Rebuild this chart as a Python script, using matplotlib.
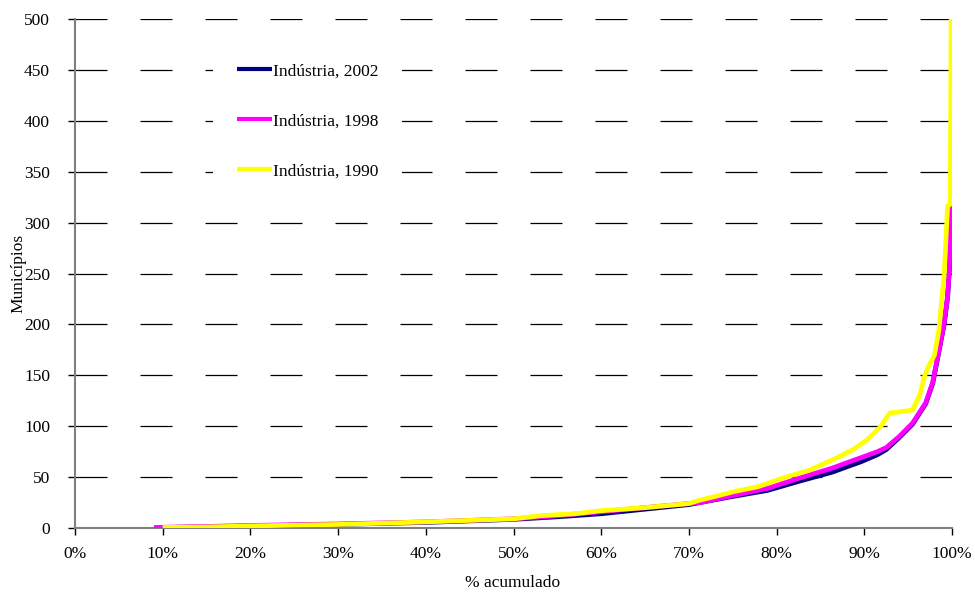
import matplotlib
matplotlib.use("Agg")
import matplotlib.pyplot as plt
from matplotlib.ticker import FuncFormatter
from matplotlib.patches import Rectangle

plt.rcParams['font.family'] = ['Liberation Serif', 'DejaVu Serif']
plt.rcParams['lines.scale_dashes'] = False

# Industria 2002 (navy)
x2002 = [9.5, 15, 20, 30, 40, 50, 55, 60, 65, 70, 75, 79, 82.6, 86.4, 88.3, 89.6, 91.5, 92.5, 94, 95.5, 97, 97.8, 98.5, 99.1, 99.5, 99.7, 99.9, 100]
y2002 = [0.5, 1, 2, 3.5, 5.5, 8.5, 11, 14, 18.5, 23, 31, 37, 46, 55, 61, 65, 72, 77, 89, 102, 122, 142, 173, 200, 227, 254, 300, 315]
# Industria 1998 (magenta)
x1998 = [9.0, 15, 20, 30, 40, 50, 55, 60, 65, 70, 71.3, 75.1, 79, 82.6, 86.4, 88.3, 89.6, 91.5, 92.5, 94, 95.5, 97, 97.8, 98.5, 99.1, 99.5, 99.7, 99.9, 100]
y1998 = [0.5, 1.5, 2.5, 4, 6, 9, 12, 16, 20, 24, 25, 32, 39, 49, 59, 65, 69, 75, 79, 90, 103, 123, 143, 174, 201, 228, 255, 316, 430]
# Industria 1990 (yellow)
x1990 = [10.0, 15, 20, 30, 40, 50, 53, 57, 60, 65, 70, 71.3, 73, 75.1, 77.9, 80.7, 83.8, 86.4, 88.7, 90.3, 91.8, 92.9, 94, 95.5, 96.3, 96.9, 97.4, 98, 98.5, 98.8, 99.1, 99.5, 99.8, 99.9, 100]
y1990 = [0.5, 1, 2, 3.5, 6, 9, 12, 14, 17, 20, 24, 27.5, 31, 35.7, 40.6, 49, 57, 67, 77, 86.5, 99, 113, 114, 116, 130, 150, 160, 170, 194, 221, 248, 316, 318, 499, 520]

labels = ['Indústria, 2002', 'Indústria, 1998', 'Indústria, 1990']
colors = ['#000080', '#FF00FF', '#FFFF00']

W, H = 975, 592
L, R, B, T = 75, 952, 528, 19
fig = plt.figure(figsize=(W/100, H/100), dpi=100)
ax = fig.add_axes([L/W, 1-B/H, (R-L)/W, (B-T)/H])

def ax_x(px):
    return (px - L) / (R - L)

def ax_y(py):
    return (B - py) / (B - T)

for yv in range(50, 501, 50):
    ax.axhline(yv, color='black', lw=0.9, linestyle=(0, (23.04, 23.76)), zorder=1)

# white legend area masking the grid
ax.add_patch(Rectangle((ax_x(213), ax_y(200)), ax_x(402) - ax_x(213), ax_y(40) - ax_y(200),
                       transform=ax.transAxes, facecolor='white', edgecolor='none', zorder=2))

ax.plot(x2002, y2002, color=colors[0], lw=3.4, label=labels[0], zorder=3, solid_capstyle='butt')
ax.plot(x1998, y1998, color=colors[1], lw=3.4, label=labels[1], zorder=4, solid_capstyle='butt')
ax.plot(x1990, y1990, color=colors[2], lw=3.4, label=labels[2], zorder=5, solid_capstyle='butt')

ax.set_xlim(0, 100)
ax.set_ylim(0, 500)
ax.set_xticks(range(0, 101, 10))
ax.set_yticks(range(0, 501, 50))
ax.xaxis.set_major_formatter(FuncFormatter(lambda v, p: f"{int(v)}%"))
for s in ['top', 'right']:
    ax.spines[s].set_visible(False)
for s in ['left', 'bottom']:
    ax.spines[s].set_color('#808080')
    ax.spines[s].set_linewidth(1.5)
ax.tick_params(axis='both', direction='out', length=5, width=1, color='black',
               labelsize=12.5)
ax.tick_params(axis='x', pad=8)
ax.tick_params(axis='y', pad=13)

fig.text(513/W, 1-583/H, '% acumulado', fontsize=12.5, ha='center', va='center')
fig.text(18/W, 1-273/H, 'Municípios', fontsize=12.5, ha='center', va='center', rotation=90)

leg = ax.legend(loc='upper left', bbox_to_anchor=(ax_x(237), ax_y(63)), frameon=False,
                fontsize=12.5, handlelength=2.0, handletextpad=0.1,
                labelspacing=1.95, borderpad=0, borderaxespad=0)
leg.set_zorder(6)
for h in leg.get_lines():
    h.set_linewidth(3)

fig.savefig('out.png', dpi=100)
